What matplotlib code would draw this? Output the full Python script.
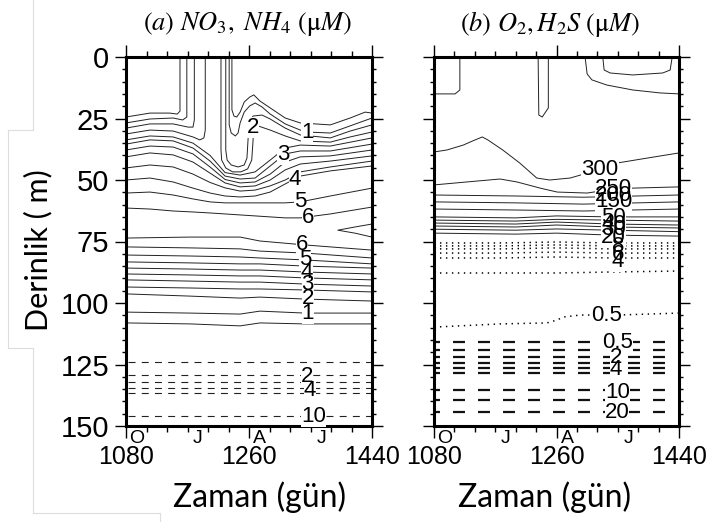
import matplotlib
matplotlib.use('Agg')
import matplotlib.pyplot as plt
from matplotlib.lines import Line2D
from matplotlib.ticker import MultipleLocator, FixedLocator
from matplotlib.transforms import blended_transform_factory

plt.rcParams['lines.scale_dashes'] = False
plt.rcParams['mathtext.fontset'] = 'stix'
plt.rcParams['font.family'] = ['Liberation Sans', 'DejaVu Sans']

# ---------------- panel (a): NO3 (solid) and NH4 (dashed) ----------------
# upper nitracline, left part: contours that turn up to the surface (day, depth)
no3_a05 = ([1080, 1115, 1144, 1155, 1159, 1159], [24.4, 22.8, 22.8, 23.2, 22.0, 0])
no3_a10 = ([1080, 1115, 1149, 1163, 1169, 1169], [26.8, 25.2, 24.8, 25.6, 24.4, 0])
no3_a15 = ([1080, 1115, 1149, 1171, 1178, 1180, 1180], [28.9, 27.2, 27.2, 28.5, 28.5, 25.6, 0])
no3_a20 = ([1080, 1115, 1149, 1178, 1188, 1194, 1196, 1196],
           [31.3, 29.7, 30.1, 32.5, 33.7, 32.9, 29.7, 0])

# contours coming down from the surface on the right side of the mixing column
no3_b05 = ([1235, 1235, 1238, 1242, 1247, 1253, 1261, 1267, 1276, 1291, 1313, 1335, 1379, 1408, 1430, 1440],
           [0, 21.5, 24.0, 24.4, 22.4, 18.3, 16.3, 15.4, 17.9, 20.7, 24.8, 26.8, 27.6, 24.8, 22.4, 22.8])
no3_b10 = ([1231, 1231, 1234, 1240, 1244, 1247, 1253, 1261, 1269, 1279, 1291, 1313, 1335, 1345, 1379, 1408, 1440],
           [0, 27.6, 30.9, 32.1, 30.9, 26.8, 22.4, 19.9, 18.7, 20.3, 23.2, 27.2, 29.7, 30.5, 30.9, 28.0, 24.8])
no3_b15 = ([1226, 1226, 1228, 1234, 1244, 1253, 1257, 1259, 1260, 1266, 1279, 1291, 1313, 1335, 1379, 1408, 1440],
           [0, 37.8, 41.9, 43.9, 44.7, 43.9, 41.1, 31.7, 26.4, 24.0, 23.6, 25.2, 28.9, 31.7, 32.9, 30.1, 27.6])
no3_b20 = ([1219, 1219, 1220, 1226, 1236, 1248, 1258, 1264, 1266, 1266, 1273, 1291, 1313, 1335, 1379, 1408, 1440],
           [0, 37.8, 41.9, 45.1, 46.7, 46.7, 45.5, 41.9, 33.7, 29.7, 28.0, 29.7, 32.1, 34.1, 34.6, 32.5, 30.5])

# contours passing under the column
under_days = [1080, 1115, 1149, 1178, 1203, 1225, 1247, 1269, 1291, 1313, 1335, 1379, 1440]
no3_c1 = [33.7, 32.1, 32.5, 35.0, 40.0, 47.0, 48.0, 46.7, 41.9, 37.0, 35.8, 36.2, 32.9]
no3_c2 = [35.4, 33.7, 34.1, 37.0, 42.3, 48.4, 49.6, 49.2, 44.3, 39.4, 38.2, 38.2, 35.4]
no3_c3 = [37.8, 36.2, 36.6, 39.4, 44.7, 49.8, 51.2, 50.8, 47.6, 42.7, 40.6, 40.2, 37.8]
no3_c4 = [40.6, 39.0, 39.8, 42.7, 47.2, 51.2, 52.8, 52.4, 50.0, 45.9, 43.5, 42.3, 40.2]
no3_c5 = [45.1, 43.9, 44.7, 47.6, 51.0, 53.2, 54.5, 54.1, 52.4, 50.0, 46.7, 44.7, 42.3]
no3_c6 = [50.0, 49.2, 50.8, 53.3, 55.3, 56.5, 56.9, 56.5, 54.9, 51.6, 48.4, 46.3, 44.3]
no3_c7 = [55.3, 54.9, 56.1, 57.7, 58.9, 59.3, 59.3, 59.3, 59.3, 59.3, 58.9, 56.5, 53.3]
no3_c8 = [61.4, 61.8, 62.6, 63.0, 63.4, 63.8, 64.2, 64.6, 65.0, 65.4, 65.4, 63.8, 61.0]
no3_wedge = ([1440, 1415, 1390, 1415, 1440], [67.9, 69.1, 70.4, 71.6, 73.2])

# lower nitracline
lower_days = [1080, 1174, 1247, 1276, 1342, 1440]
no3_lower = [
    [73.6, 73.2, 73.2, 74.8, 76.4, 78.5],   # 6
    [77.2, 77.6, 78.0, 78.9, 79.7, 81.7],
    [80.5, 80.9, 81.3, 81.7, 82.5, 84.1],   # 5
    [83.3, 83.7, 84.1, 84.1, 85.0, 85.8],
    [85.8, 86.2, 86.6, 86.6, 87.4, 88.2],   # 4
    [88.2, 88.6, 89.0, 89.0, 89.8, 90.6],
    [90.6, 91.1, 91.5, 91.5, 92.3, 93.1],   # 3
    [93.5, 93.9, 94.3, 94.3, 94.7, 95.5],
    [96.3, 97.2, 98.0, 97.6, 98.4, 99.2],   # 2
    [103.7, 104.1, 104.5, 103.3, 104.1, 104.1],  # 1
    [108.1, 108.5, 109.3, 108.1, 108.5, 108.5],
]

nh4_depths = [124.0, 129.3, 132.1, 134.6, 136.6, 145.9]

# label text, day, depth
labels_a = [('1', 1345, 30.5), ('2', 1266, 28.5), ('3', 1310, 39.8), ('4', 1327, 49.6),
            ('5', 1335, 58.9), ('6', 1346, 65.4),
            ('6', 1338, 76.4), ('5', 1342, 82.5), ('4', 1345, 87.8), ('3', 1346, 92.5),
            ('2', 1346, 98.0), ('1', 1346, 104.1),
            ('2', 1345, 130.0), ('4', 1349, 135.4), ('10', 1354, 146.3)]

# ---------------- panel (b): O2 (solid, dotted) and H2S (dashed) ----------------
o2_corner = ([1080, 1111, 1118, 1118], [15.0, 15.0, 13.4, 0])
o2_tongue = ([1233, 1234, 1239, 1248, 1248], [0, 23.6, 24.4, 20.7, 0])
o2_tr_outer = ([1302, 1305, 1312, 1334, 1372, 1412, 1440], [0, 6.9, 9.3, 11.4, 13.4, 14.6, 15.0])
o2_tr_inner = ([1328, 1330, 1339, 1372, 1416, 1427, 1430], [0, 5.3, 6.5, 7.3, 6.5, 5.3, 0])
o2_300 = ([1080, 1099, 1123, 1137, 1151, 1159, 1181, 1206, 1231, 1250, 1280, 1295, 1320, 1349, 1393, 1440],
          [38.6, 37.8, 35.8, 34.1, 32.5, 33.7, 37.8, 43.1, 49.2, 50.0, 49.2, 48.0, 45.9, 43.1, 41.1, 39.0])
o2_250 = ([1080, 1128, 1177, 1202, 1236, 1261, 1305, 1343, 1372, 1440],
          [52.0, 50.8, 49.6, 50.8, 53.3, 54.9, 55.3, 53.7, 53.3, 52.8])
mid_days = [1080, 1200, 1300, 1440]
o2_mid = [
    [56.1, 56.5, 57.0, 56.1],   # 200
    [58.9, 59.3, 59.8, 58.9],   # 150
    [61.8, 62.2, 62.6, 61.8],   # 100
]
dense_days = [1080, 1200, 1260, 1340, 1440]
o2_dense = [
    [65.0, 65.4, 64.6, 65.0, 65.0],   # 50
    [66.3, 66.7, 66.0, 66.3, 66.7],   # 40
    [67.5, 67.9, 67.1, 67.9, 68.3],   # 30
    [68.7, 69.1, 68.3, 69.1, 69.5],   # 20
    [70.0, 70.4, 69.9, 70.4, 71.0],
    [71.6, 72.0, 71.6, 72.4, 72.8],
]
dot_days = [1080, 1180, 1260, 1340, 1440]
o2_dotted = [
    [75.6, 75.6, 75.2, 75.6, 75.6],
    [76.8, 76.8, 76.4, 76.8, 76.8],
    [78.0, 78.0, 77.6, 78.0, 78.0],
    [79.7, 79.7, 79.3, 79.7, 79.7],
    [81.7, 81.7, 81.3, 81.7, 81.7],
    [87.8, 87.8, 87.8, 87.4, 87.0],
]
o2_dot05 = ([1080, 1177, 1246, 1261, 1270, 1295, 1324, 1349, 1440],
            [109.8, 108.5, 108.1, 106.9, 105.7, 104.9, 104.9, 104.9, 104.1])
h2s_depths = [115.9, 119.1, 122.0, 124.4, 126.4, 128.5, 135.4, 139.4, 144.3]

labels_b = [('300', 1324, 45.9), ('250', 1344, 53.3), ('200', 1344, 56.1), ('150', 1344, 58.9),
            ('50', 1344, 65.4), ('40', 1344, 67.9), ('30', 1344, 70.3), ('20', 1344, 73.2),
            ('8', 1350, 77.2), ('6', 1350, 80.1), ('4', 1350, 83.3), ('0.5', 1334, 104.9),
            ('0.5', 1349, 115.9), ('2', 1347, 122.0), ('4', 1347, 127.2),
            ('10', 1350, 136.2), ('20', 1349, 144.7)]

x_major = [1080, 1260, 1440]
months = [('O', 1096), ('J', 1185), ('A', 1276), ('J', 1366)]

SOLID = dict(color='#222222', lw=0.7, zorder=2)


def line(ax, x, y, **kw):
    ax.plot(x, y, **kw)


def clabel(ax, s, x, y, size=16):
    ax.text(x, y, s, fontsize=size, ha='center', va='center', color='none', zorder=3,
            bbox=dict(boxstyle='square,pad=0.0', fc='white', ec='none'))
    ax.text(x, y, s, fontsize=size, ha='center', va='center', color='black', zorder=4)


def style_axes(ax, left_labels):
    ax.set_xlim(1080, 1440)
    ax.set_ylim(150, 0)
    ax.xaxis.set_major_locator(FixedLocator(x_major))
    ax.xaxis.set_minor_locator(MultipleLocator(30))
    ax.yaxis.set_major_locator(MultipleLocator(25))
    ax.yaxis.set_minor_locator(MultipleLocator(5))
    ax.tick_params(axis='x', which='major', direction='out', length=8.5, width=1,
                   top=True, labelsize=18, pad=5.5)
    ax.tick_params(axis='x', which='minor', direction='out', length=4, width=1, top=True)
    ax.tick_params(axis='y', which='major', direction='out', length=8, width=1,
                   right=True, labelsize=21, pad=4, labelleft=left_labels)
    ax.tick_params(axis='y', which='minor', direction='out', length=3, width=1, right=True)
    for s in ax.spines.values():
        s.set_linewidth(2.2)
    tr = blended_transform_factory(ax.transData, ax.transAxes)
    for m, d in months:
        ax.text(d, -0.033, m, transform=tr, ha='center', va='center', fontsize=14)


fig = plt.figure(figsize=(7.12, 5.22), dpi=100)
ax_a = fig.add_axes([126 / 712, 1 - 426 / 522, 246 / 712, 369 / 522])
ax_b = fig.add_axes([434 / 712, 1 - 426 / 522, 245 / 712, 369 / 522])

# panel a
for xs, ys in [no3_a05, no3_a10, no3_a15, no3_a20, no3_b05, no3_b10, no3_b15, no3_b20, no3_wedge]:
    line(ax_a, xs, ys, **SOLID)
for ys in [no3_c1, no3_c2, no3_c3, no3_c4, no3_c5, no3_c6, no3_c7, no3_c8]:
    line(ax_a, under_days, ys, **SOLID)
for ys in no3_lower:
    line(ax_a, lower_days, ys, **SOLID)
for d in nh4_depths:
    line(ax_a, [1080, 1440], [d, d], color='#222222', lw=0.8, ls=(8.0, (5.0, 4.5)), zorder=2)
for s, x, y in labels_a:
    clabel(ax_a, s, x, y)
style_axes(ax_a, True)

# panel b
for xs, ys in [o2_corner, o2_tongue, o2_tr_outer, o2_tr_inner, o2_300, o2_250]:
    line(ax_b, xs, ys, **SOLID)
for ys in o2_mid:
    line(ax_b, mid_days, ys, **SOLID)
for ys in o2_dense:
    line(ax_b, dense_days, ys, **SOLID)
for ys in o2_dotted:
    line(ax_b, dot_days, ys, color='black', lw=1.1, ls=(0, (1.0, 3.3)), zorder=2)
line(ax_b, o2_dot05[0], o2_dot05[1], color='black', lw=1.1, ls=(0, (1.0, 3.3)), zorder=2)
for d in h2s_depths:
    line(ax_b, [1080, 1440], [d, d], color='#111111', lw=1.6, ls=(4.3, (8.6, 9.4)), zorder=2)
for s, x, y in labels_b:
    clabel(ax_b, s, x, y)
style_axes(ax_b, False)

# titles and axis labels
fig.text(247 / 712, 1 - 24 / 522, r'$(a)\ NO_3,\ NH_4\ (\mathrm{\mu}M)$',
         fontsize=19, ha='center', va='center')
fig.text(550 / 712, 1 - 24 / 522, r'$(b)\ O_2,H_2S\ (\mathrm{\mu}M)$',
         fontsize=19, ha='center', va='center')
fig.text(260 / 712, 1 - 497 / 522, 'Zaman (gün)', fontfamily='Lato', fontsize=23,
         ha='center', va='center')
fig.text(545 / 712, 1 - 497 / 522, 'Zaman (gün)', fontfamily='Lato', fontsize=23,
         ha='center', va='center')
fig.text(38 / 712, 1 - 250 / 522, 'Derinlik ( m)', fontfamily='Lato', fontsize=22,
         rotation=90, ha='center', va='center')

# faint frame of the pasted picture
frame = [((33, 0), (33, 130)), ((33, 130), (8, 130)), ((8, 130), (8, 348)),
         ((8, 348), (33, 348)), ((33, 348), (33, 513)), ((33, 513), (160, 513)),
         ((160, 513), (160, 522))]
for (x0, y0), (x1, y1) in frame:
    fig.add_artist(Line2D([x0 / 712, x1 / 712], [1 - y0 / 522, 1 - y1 / 522],
                          transform=fig.transFigure, color='#dddddd', lw=0.8))

fig.savefig('out.png', dpi=100)
